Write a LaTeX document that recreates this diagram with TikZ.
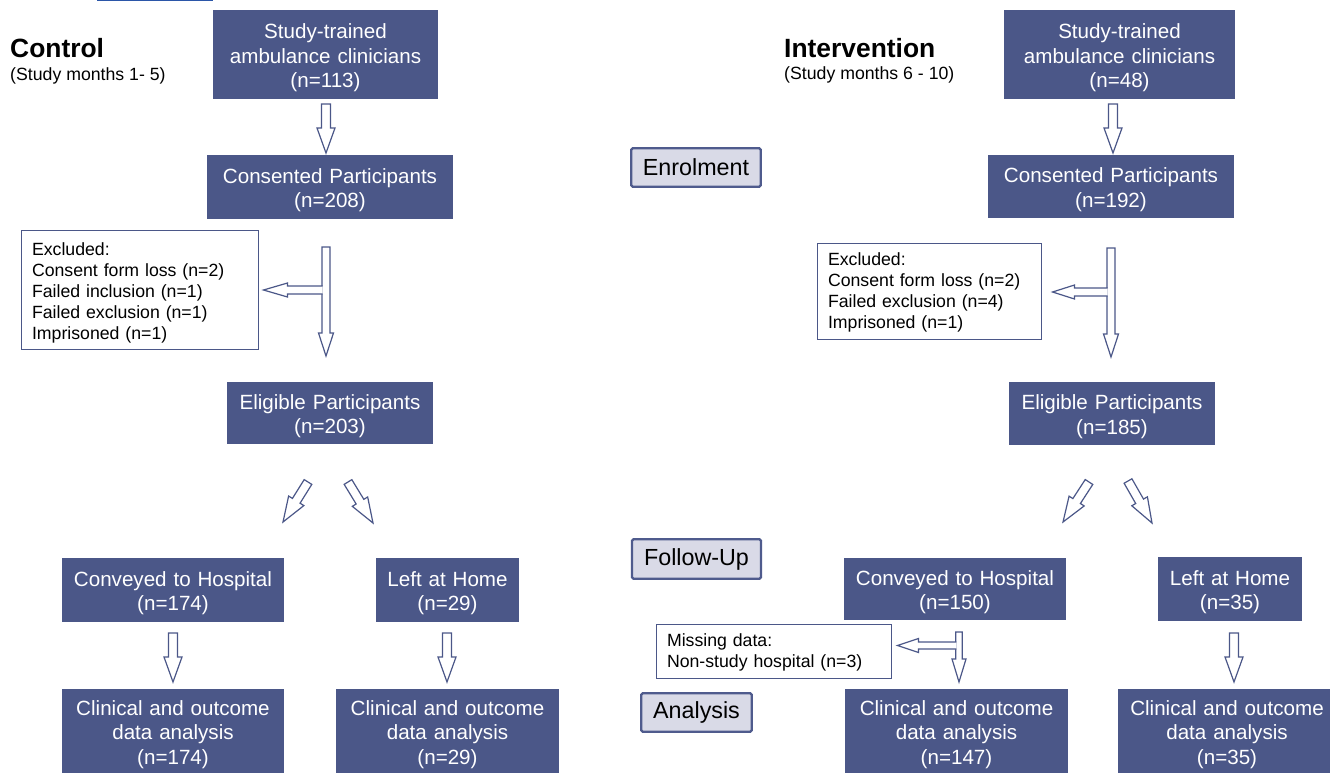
\documentclass[tikz,border=0pt]{standalone}
\usepackage{fontspec}
\setmainfont{Liberation Sans}
\usepackage{tikz}
\usetikzlibrary{calc}
\usetikzlibrary{positioning}
\definecolor{boxblue}{HTML}{4B5788}
\definecolor{stagefill}{HTML}{D9DAE7}
\definecolor{stageline}{HTML}{4F5B8D}
\definecolor{linkblue}{HTML}{2B56A8}

\newcommand{\boxfont}{\fontsize{20.6}{24.5}\selectfont}
\newcommand{\notefont}{\fontsize{17.7}{21}\selectfont}
\newcommand{\stagefont}{\fontsize{23.3}{26}\selectfont}
\newcommand{\titlefont}{\fontsize{26.4}{30}\selectfont\bfseries}

% Blockpfeil: #1 von, #2 nach, #3 halbe Schaftbreite, #4 halbe Spitzenbreite, #5 Spitzenlaenge
\newcommand{\blockarrow}[5]{%
  \coordinate (ba-h) at ($(#2)!#5pt!(#1)$);
  \draw[arrowline] ($(#1)!#3pt!90:(#2)$) -- ($(ba-h)!#3pt!90:(#2)$) -- ($(ba-h)!#4pt!90:(#2)$) -- (#2)
    -- ($(ba-h)!#4pt!-90:(#2)$) -- ($(ba-h)!#3pt!-90:(#2)$) -- ($(#1)!#3pt!-90:(#2)$) -- cycle;
}
% Seitenpfeil am T (offenes Ende am Schaft)
\newcommand{\sidearrow}[5]{%
  \coordinate (ba-h) at ($(#2)!#5pt!(#1)$);
  \fill[white] ($(#1)!#3pt!90:(#2)$) -- ($(ba-h)!#3pt!90:(#2)$) -- ($(ba-h)!#4pt!90:(#2)$) -- (#2)
    -- ($(ba-h)!#4pt!-90:(#2)$) -- ($(ba-h)!#3pt!-90:(#2)$) -- ($(#1)!#3pt!-90:(#2)$) -- cycle;
  \draw[arrowline, fill=none] ($(#1)!#3pt!90:(#2)$) -- ($(ba-h)!#3pt!90:(#2)$) -- ($(ba-h)!#4pt!90:(#2)$) -- (#2)
    -- ($(ba-h)!#4pt!-90:(#2)$) -- ($(ba-h)!#3pt!-90:(#2)$) -- ($(#1)!#3pt!-90:(#2)$);
}

\tikzset{
  flowbox/.style 2 args={fill=boxblue, text=white, font=\boxfont, align=center, inner sep=0pt,
    text width=#1pt, minimum height=#2pt, text height=21.5pt},
  notebox/.style={draw=boxblue, line width=1pt, fill=white, font=\notefont, align=left,
    inner xsep=11pt, inner ysep=0pt, text height=16.5pt},
  stagebox/.style={draw=stageline, line width=2.4pt, fill=stagefill, rounded corners=1.5pt,
    font=\stagefont, inner sep=0pt},
  titletext/.style={anchor=base west, inner sep=0pt},
  arrowline/.style={draw=boxblue, line width=1.2pt, fill=white, line join=miter},
}

\begin{document}
\begin{tikzpicture}[x=1pt, y=-1pt]
\path[use as bounding box] (0,0) rectangle (1330,773);
\clip (0,0) rectangle (1330,773);

% Linie oben
\fill[linkblue] (97,0) rectangle (213,1.5);

% Kontrollgruppe
\node[titletext, font=\titlefont] (ctitle) at (10,57.5) {Control};
\node[titletext, font=\notefont] (cmonths) at (10,80.5) {(Study months 1- 5)};

\node[flowbox={225}{89}] (c1) at (325.5,54.5) {Study-trained\\ambulance clinicians\\(n=113)};
\node[flowbox={246}{64}] (c2) at (330,187) {Consented Participants\\(n=208)};
\node[notebox, text width=215pt, minimum height=119pt, text height=19.9pt] (cx) at (139.5,289.5) {Excluded:\\Consent form loss (n=2)\\Failed inclusion (n=1)\\Failed exclusion (n=1)\\Imprisoned (n=1)};
\node[flowbox={206}{62}] (c3) at (330,413) {Eligible Participants\\(n=203)};
\node[flowbox={222}{64}] (c4) at (173,590) {Conveyed to Hospital\\(n=174)};
\node[flowbox={143}{64}] (c5) at (447.5,590) {Left at Home\\(n=29)};
\node[flowbox={222}{84}] (c6) at (173,731) {Clinical and outcome\\data analysis\\(n=174)};
\node[flowbox={223}{84}] (c7) at (447.5,731) {Clinical and outcome\\data analysis\\(n=29)};

% Interventionsgruppe
\node[titletext, font=\titlefont] (ititle) at (784,58) {Intervention};
\node[titletext, font=\notefont] (imonths) at (784,80) {(Study months 6 - 10)};

\node[flowbox={231}{89}] (i1) at (1119.5,54.5) {Study-trained\\ambulance clinicians\\(n=48)};
\node[flowbox={246}{63}] (i2) at (1111,186.5) {Consented Participants\\(n=192)};
\node[notebox, text width=202pt, minimum height=96pt] (ix) at (929,291) {Excluded:\\Consent form loss (n=2)\\Failed exclusion (n=4)\\Imprisoned (n=1)};
\node[flowbox={206}{63}] (i3) at (1112,413.5) {Eligible Participants\\(n=185)};
\node[flowbox={222}{62}] (i4) at (955,589) {Conveyed to Hospital\\(n=150)};
\node[flowbox={144}{64}] (i5) at (1230,589) {Left at Home\\(n=35)};
\node[notebox, text width=213pt, minimum height=54pt] (im) at (773.5,651) {Missing data:\\Non-study hospital (n=3)};
\node[flowbox={223}{84}] (i6) at (956.5,731) {Clinical and outcome\\data analysis\\(n=147)};
\node[flowbox={218}{84}] (i7) at (1227,731) {Clinical and outcome\\data analysis\\(n=35)};

% Phasen
\node[stagebox, minimum width=129.5pt, minimum height=38.5pt] (enrol) at (696,167.5) {Enrolment};
\node[stagebox, minimum width=129pt, minimum height=39.5pt] (follow) at (696.5,559) {Follow-Up};
\node[stagebox, minimum width=110.5pt, minimum height=38.5pt] (analysis) at (696.5,712.5) {Analysis};

% Pfeilenden
\coordinate (a1s) at (326,104);  \coordinate (a1e) at (326,153);
\coordinate (a4s) at (173,633);  \coordinate (a4e) at (173,682);
\coordinate (a5s) at (447,633);  \coordinate (a5e) at (447,682);
\coordinate (b1s) at (1113,104); \coordinate (b1e) at (1113,153);
\coordinate (b5s) at (1234,633); \coordinate (b5e) at (1234,682);
\coordinate (d1s) at (308,482);  \coordinate (d1e) at (283,522);
\coordinate (d2s) at (348,482);  \coordinate (d2e) at (373,523);
\coordinate (d3s) at (1089,482); \coordinate (d3e) at (1063,522);
\coordinate (d4s) at (1128,481); \coordinate (d4e) at (1152,523);

% gerade und schraege Pfeile
\foreach \s/\e in {a1s/a1e, a4s/a4e, a5s/a5e, b1s/b1e, b5s/b5e, d1s/d1e, d2s/d2e, d3s/d3e, d4s/d4e}
  \blockarrow{\s}{\e}{4.5}{9}{25};

% T-Pfeile mit Abzweig
\coordinate (t1s) at (326,247);  \coordinate (t1e) at (326,356);
\coordinate (t2s) at (1111,248); \coordinate (t2e) at (1111,357);
\coordinate (t3s) at (959,632);  \coordinate (t3e) at (959,682);
\coordinate (t1j) at ($(t1s |- cx.east)+(-3.3,0.5)$);
\coordinate (t1k) at ($(cx.east)+(5,0.5)$);
\coordinate (t2j) at ($(t2s |- ix.east)+(-3.3,1)$);
\coordinate (t2k) at ($(ix.east)+(11,1)$);
\coordinate (t3j) at ($(t3s |- im.east)+(-2.6,-5.5)$);
\coordinate (t3k) at ($(im.east)+(6,-5.5)$);

\blockarrow{t1s}{t1e}{4}{7.5}{23}
\sidearrow{t1j}{t1k}{4}{7}{24}
\blockarrow{t2s}{t2e}{4}{7.5}{23}
\sidearrow{t2j}{t2k}{4}{7}{22}
\blockarrow{t3s}{t3e}{3.3}{7}{23}
\sidearrow{t3j}{t3k}{3.5}{7}{21}
\end{tikzpicture}
\end{document}
